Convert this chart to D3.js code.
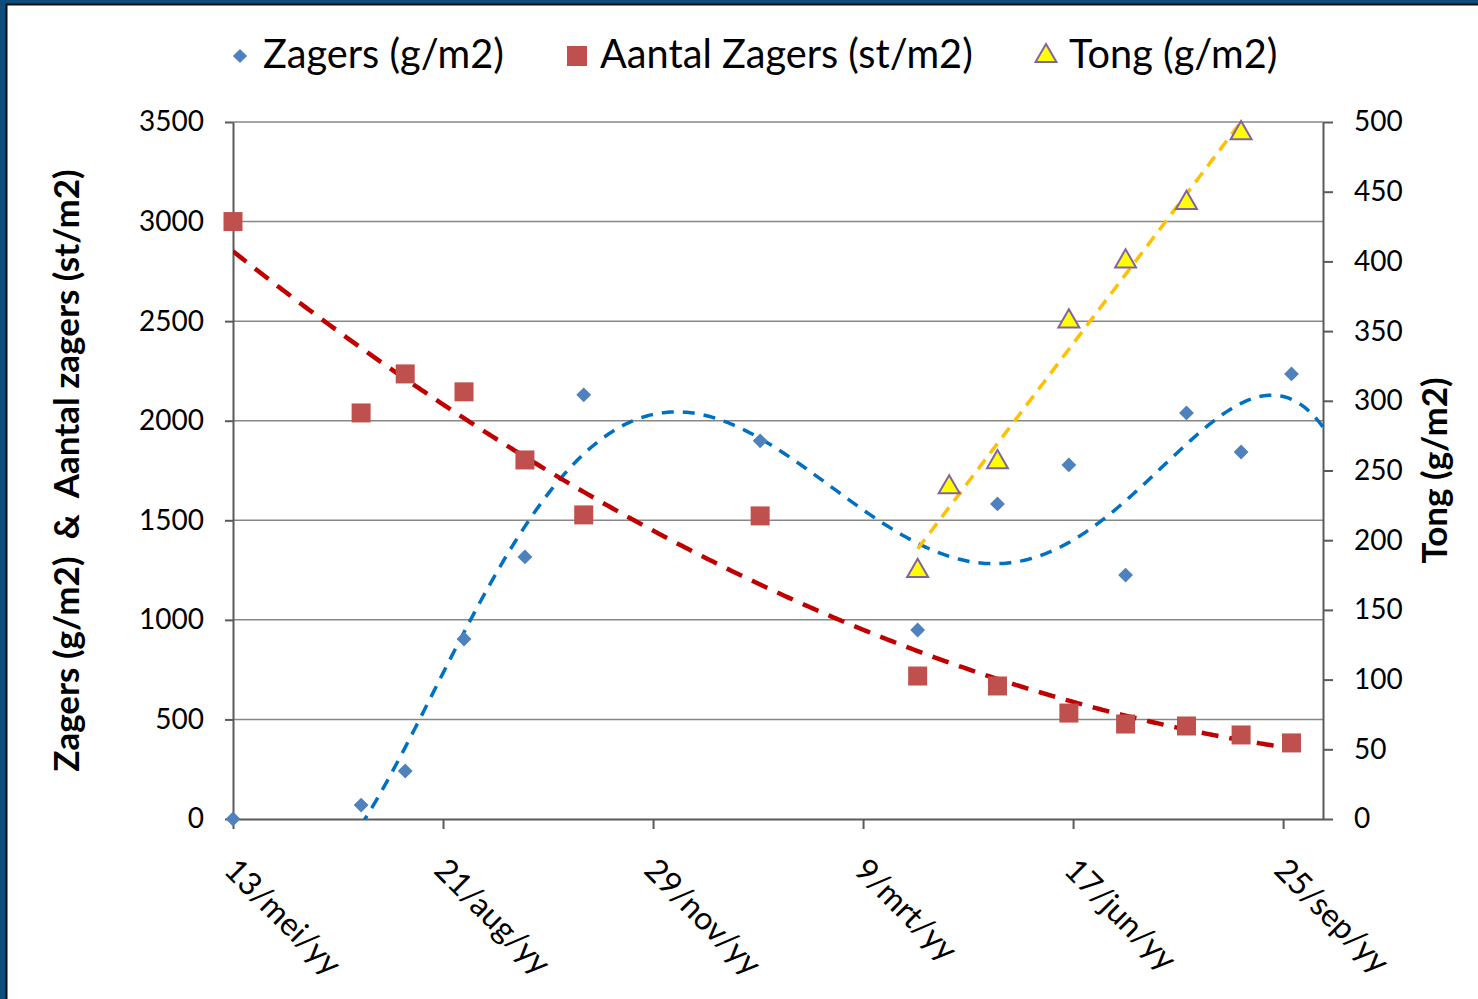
<!DOCTYPE html>
<html><head><meta charset="utf-8">
<script src="https://cdn.jsdelivr.net/npm/d3@7"></script>
<style>
html,body{margin:0;padding:0;background:#fff;}
svg{display:block;font-family:Lato,"Open Sans",sans-serif;}
</style></head>
<body>
<svg id="chart" width="1478" height="999"></svg>
<script>
// ---- data (days after 13/mei) ----
const xTickDays = [0, 100, 200, 300, 400, 500];
const xTickLabels = ["13/mei/yy", "21/aug/yy", "29/nov/yy", "9/mrt/yy", "17/jun/yy", "25/sep/yy"];
const sampleDays = [0, 61, 82, 110, 139, 167, 251, 326, 364, 398, 425, 454, 480, 504];
const zagers = [0, 70, 241, 904, 1316, 2130, 1899, 949, 1582, 1778, 1225, 2039, 1843, 2235];
const aantalZagers = [3000, 2039, 2235, 2145, 1803, 1527, 1522, 718, 668, 532, 477, 467, 422, 382];
const tongDays = [326, 341, 364, 398, 425, 454, 480];
const tong = [178, 238, 256, 357, 400, 442, 492];
const leftTicks = [0, 500, 1000, 1500, 2000, 2500, 3000, 3500];
const rightTicks = [0, 50, 100, 150, 200, 250, 300, 350, 400, 450, 500];
const seriesNames = ["Zagers (g/m2)", "Aantal Zagers (st/m2)", "Tong (g/m2)"];

// ---- least squares polynomial fit (trendlines) ----
function polyfit(xs, ys, deg) {
  const s = 100;
  const n = deg + 1;
  const A = Array.from({length: n}, () => new Array(n + 1).fill(0));
  xs.forEach((x0, k) => {
    const x = x0 / s;
    for (let i = 0; i < n; i++) {
      for (let j = 0; j < n; j++) A[i][j] += Math.pow(x, i + j);
      A[i][n] += ys[k] * Math.pow(x, i);
    }
  });
  for (let c = 0; c < n; c++) {
    let p = c;
    for (let r = c + 1; r < n; r++) if (Math.abs(A[r][c]) > Math.abs(A[p][c])) p = r;
    [A[c], A[p]] = [A[p], A[c]];
    for (let r = 0; r < n; r++) {
      if (r === c) continue;
      const f = A[r][c] / A[c][c];
      for (let j = c; j <= n; j++) A[r][j] -= f * A[c][j];
    }
  }
  const coef = A.map((row, i) => row[n] / row[i]);
  return x0 => { const x = x0 / s; let v = 0; for (let i = n - 1; i >= 0; i--) v = v * x + coef[i]; return v; };
}

const svg = d3.select("#chart");
// frame
svg.append("rect").attr("x", 0).attr("y", 0).attr("width", 1478).attr("height", 999).attr("fill", "#0E4C7B");
svg.append("rect").attr("x", 6.5).attr("y", 4.5).attr("width", 1490).attr("height", 1010)
  .attr("fill", "#fff").attr("stroke", "#111").attr("stroke-width", 2);

const L = 233, R = 1323, T = 122, B = 819;
const x = d3.scaleLinear().domain([0, 519]).range([L, R]);
const yL = d3.scaleLinear().domain([0, 3500]).range([B, T]);
const yR = d3.scaleLinear().domain([0, 500]).range([B, T]);

// gridlines
svg.append("g").selectAll("line").data(leftTicks.slice(1)).join("line")
  .attr("x1", L).attr("x2", R).attr("y1", d => yL(d)).attr("y2", d => yL(d))
  .attr("stroke", "#878787").attr("stroke-width", 1.5);

const tickStyle = g => {
  g.select(".domain").attr("stroke", "#5a5a5a").attr("stroke-width", 2);
  g.selectAll(".tick line").attr("stroke", "#5a5a5a").attr("stroke-width", 2);
  g.selectAll("text").attr("font-family", "Lato").attr("font-size", 28).attr("fill", "#000");
};
// left axis
svg.append("g").attr("transform", `translate(${L},0)`)
  .call(d3.axisLeft(yL).tickValues(leftTicks).tickSize(8).tickSizeOuter(0).tickPadding(21).tickFormat(d3.format("d")))
  .call(tickStyle);
// right axis
svg.append("g").attr("transform", `translate(${R},0)`)
  .call(d3.axisRight(yR).tickValues(rightTicks).tickSize(10).tickSizeOuter(0).tickPadding(21).tickFormat(d3.format("d")))
  .call(tickStyle);
// bottom axis
const xAxis = svg.append("g").attr("transform", `translate(0,${B})`)
  .call(d3.axisBottom(x).tickValues(xTickDays).tickSize(10).tickSizeOuter(0).tickFormat((d, i) => xTickLabels[i]))
  .call(tickStyle);
xAxis.selectAll(".tick text")
  .attr("font-size", 32)
  .attr("text-anchor", "start").attr("y", 0).attr("dy", 0)
  .attr("transform", "translate(-11,53) rotate(45)");

// axis titles
svg.append("text").attr("transform", `translate(79,${(T + B) / 2}) rotate(-90)`)
  .attr("text-anchor", "middle").attr("font-weight", "bold").attr("font-size", 35).attr("xml:space", "preserve")
  .text("Zagers (g/m2)  &  Aantal zagers (st/m2)");
svg.append("text").attr("transform", `translate(1447,${(T + B) / 2}) rotate(-90)`)
  .attr("text-anchor", "middle").attr("font-weight", "bold").attr("font-size", 35)
  .text("Tong (g/m2)");

// clip
svg.append("clipPath").attr("id", "plot").append("rect").attr("x", L).attr("y", T).attr("width", R - L).attr("height", B - T);

// trendlines
const fz = polyfit(sampleDays, zagers, 5);
const fa = polyfit(sampleDays, aantalZagers, 2);
const ft = polyfit(tongDays, tong, 1);
const rng = (a, b) => d3.range(a, b + 0.5, 1);
const trend = svg.append("g").attr("clip-path", "url(#plot)").attr("fill", "none");
trend.append("path").datum(rng(0, 519)).attr("d", d3.line().x(d => x(d)).y(d => yL(fz(d))))
  .attr("stroke", "#0070C0").attr("stroke-width", 3.5).attr("stroke-dasharray", "12,9");
trend.append("path").datum(rng(0, 504)).attr("d", d3.line().x(d => x(d)).y(d => yL(fa(d))))
  .attr("stroke", "#C00000").attr("stroke-width", 4.5).attr("stroke-dasharray", "17,11");
trend.append("path").datum(rng(326, 480)).attr("d", d3.line().x(d => x(d)).y(d => yR(ft(d))))
  .attr("stroke", "#FFC000").attr("stroke-width", 3.5).attr("stroke-dasharray", "12,8");

// markers
const diamond = d3.symbol().type(d3.symbolSquare).size(110);
svg.append("g").selectAll("path").data(sampleDays).join("path")
  .attr("d", diamond).attr("fill", "#4F81BD")
  .attr("transform", (d, i) => `translate(${x(d)},${yL(zagers[i])}) rotate(45)`);
svg.append("g").selectAll("rect").data(sampleDays).join("rect")
  .attr("x", d => x(d) - 9.5).attr("y", (d, i) => yL(aantalZagers[i]) - 9.5)
  .attr("width", 19).attr("height", 19).attr("fill", "#C0504D");
const tri = d3.symbol().type(d3.symbolTriangle).size(190);
svg.append("g").selectAll("path").data(tongDays).join("path")
  .attr("d", tri).attr("fill", "#FFFF00").attr("stroke", "#8064A2").attr("stroke-width", 2)
  .attr("transform", (d, i) => `translate(${x(d)},${yR(tong[i])})`);

// legend
const lg = svg.append("g").attr("font-size", 39.7);
lg.append("path").attr("d", d3.symbol().type(d3.symbolSquare).size(100)).attr("fill", "#4F81BD")
  .attr("transform", "translate(240,56) rotate(45)");
lg.append("text").attr("x", 263).attr("y", 68).text(seriesNames[0]);
lg.append("rect").attr("x", 567).attr("y", 46).attr("width", 20).attr("height", 20).attr("fill", "#C0504D");
lg.append("text").attr("x", 600).attr("y", 68).text(seriesNames[1]);
lg.append("path").attr("d", tri).attr("fill", "#FFFF00").attr("stroke", "#8064A2").attr("stroke-width", 2)
  .attr("transform", "translate(1046,56)");
lg.append("text").attr("x", 1069).attr("y", 68).text(seriesNames[2]);
</script>
</body></html>
